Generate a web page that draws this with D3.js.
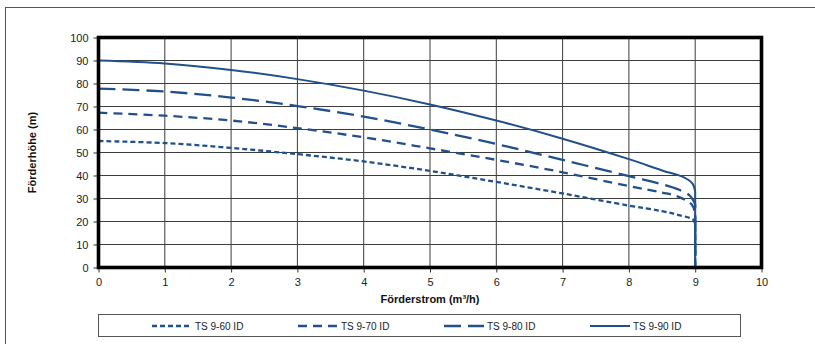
<!DOCTYPE html>
<html><head><meta charset="utf-8">
<script src="https://cdn.jsdelivr.net/npm/d3@7"></script>
<style>
body{margin:0;background:#fff}
text{font-family:"Liberation Sans",Arial,sans-serif}
</style>
</head><body>
<svg id="chart" width="815" height="344"></svg>
<script>
// ---- data ----
const seriesNames = ["TS 9-60 ID", "TS 9-70 ID", "TS 9-80 ID", "TS 9-90 ID"];
const flow60 = [0, 1, 2, 3, 4, 5, 6, 7, 8, 8.5, 8.75, 8.97, 9.0, 9.0];
const head60 = [55.0, 54.1, 52.0, 49.3, 46.1, 42.0, 37.2, 32.2, 26.9, 24.5, 22.8, 20.8, 18.5, 0];
const flow70 = [0, 1, 2, 3, 4, 5, 6, 7, 8, 8.5, 8.75, 8.95, 9.0, 9.0];
const head70 = [67.3, 66.0, 63.9, 60.6, 56.6, 51.8, 46.8, 41.4, 35.4, 32.6, 30.7, 27.3, 23.5, 0];
const flow80 = [0, 1, 2, 3, 4, 5, 6, 7, 8, 8.5, 8.75, 8.92, 9.0, 9.0];
const head80 = [77.8, 76.5, 73.9, 70.2, 65.6, 60.0, 53.7, 46.8, 39.7, 36.2, 33.9, 31.2, 27.5, 0];
const flow90 = [0, 1, 2, 3, 4, 5, 6, 7, 8, 8.5, 8.83, 8.96, 9.0, 9.0];
const head90 = [90.0, 88.7, 85.9, 81.9, 76.9, 70.9, 63.9, 56.0, 47.1, 42.2, 39.2, 36.5, 33.0, 0];
const xTicks = [0, 1, 2, 3, 4, 5, 6, 7, 8, 9, 10];
const yTicks = [0, 10, 20, 30, 40, 50, 60, 70, 80, 90, 100];
const xTitle = "Förderstrom (m³/h)";
const yTitle = "Förderhöhe (m)";

const flows = [flow60, flow70, flow80, flow90];
const heads = [head60, head70, head80, head90];
const dashes = ["5,3", "9,6", "17,7", null];
const color = "#22508a";

const svg = d3.select("#chart");

// outer frame (top + left)
svg.append("line").attr("x1", 5).attr("x2", 815).attr("y1", 7.5).attr("y2", 7.5).attr("stroke", "#555").attr("stroke-width", 1);
svg.append("line").attr("x1", 5.5).attr("x2", 5.5).attr("y1", 7).attr("y2", 344).attr("stroke", "#555").attr("stroke-width", 1);

const x = d3.scaleLinear().domain([0, 10]).range([98.5, 761.5]);
const y = d3.scaleLinear().domain([0, 100]).range([267.5, 37.5]);

// grid
const g = svg.append("g");
g.selectAll(".vg").data(xTicks.slice(1, -1)).join("line")
  .attr("x1", d => x(d)).attr("x2", d => x(d)).attr("y1", y(100)).attr("y2", y(0))
  .attr("stroke", "#3c3c3c").attr("stroke-width", 1);
g.selectAll(".hg").data(yTicks.slice(1, -1)).join("line")
  .attr("x1", x(0)).attr("x2", x(10)).attr("y1", d => y(d)).attr("y2", d => y(d))
  .attr("stroke", "#3c3c3c").attr("stroke-width", 1);

// axes
const xAxis = d3.axisBottom(x).tickValues(xTicks).tickSize(5).tickPadding(6).tickFormat(d3.format("d"));
const yAxis = d3.axisLeft(y).tickValues(yTicks).tickSize(5).tickPadding(5).tickFormat(d3.format("d"));
const gx = svg.append("g").attr("transform", `translate(0,${y(0)})`).call(xAxis);
const gy = svg.append("g").attr("transform", `translate(${x(0)},0)`).call(yAxis);
[gx, gy].forEach(a => {
  a.select(".domain").remove();
  a.selectAll(".tick line").attr("stroke", "#333");
  a.selectAll(".tick text").attr("fill", "#222").style("font-size", "11px").style("font-family", "'Liberation Sans', Arial, sans-serif");
});

// curves: smooth part through the points, then a straight vertical drop at the last point
const smooth = d3.line().x(d => x(d[0])).y(d => y(d[1])).curve(d3.curveCatmullRom.alpha(0.5));
const straight = d3.line().x(d => x(d[0])).y(d => y(d[1]));
seriesNames.forEach((name, i) => {
  const pts = flows[i].map((f, j) => [f, heads[i][j]]);
  const n = pts.length;
  const d = smooth(pts.slice(0, n - 1)) + straight(pts.slice(n - 2)).replace(/^M[^L]*/, "");
  const p = svg.append("path").attr("d", d)
    .attr("fill", "none").attr("stroke", color)
    .attr("stroke-width", dashes[i] ? 2.3 : 2);
  if (dashes[i]) p.attr("stroke-dasharray", dashes[i]);
});

// plot border
svg.append("rect").attr("x", x(0)).attr("y", y(100)).attr("width", x(10) - x(0)).attr("height", y(0) - y(100))
  .attr("fill", "none").attr("stroke", "#000").attr("stroke-width", 3.6);

// titles
svg.append("text").attr("x", (x(0) + x(10)) / 2).attr("y", 303).attr("text-anchor", "middle")
  .style("font-size", "11px").style("font-weight", "bold").attr("fill", "#111").text(xTitle);
svg.append("text").attr("transform", `translate(35.5,${(y(0) + y(100)) / 2}) rotate(-90)`).attr("text-anchor", "middle")
  .style("font-size", "11px").style("font-weight", "bold").attr("fill", "#111").text(yTitle);

// legend
svg.append("rect").attr("x", 98.5).attr("y", 314.5).attr("width", 642).attr("height", 22)
  .attr("fill", "#fff").attr("stroke", "#555").attr("stroke-width", 1);
const legX = d3.scalePoint().domain(seriesNames).range([152, 590]);
seriesNames.forEach((name, i) => {
  const lx = legX(name);
  const l = svg.append("line").attr("x1", lx).attr("x2", lx + 40).attr("y1", 326).attr("y2", 326)
    .attr("stroke", color).attr("stroke-width", dashes[i] ? 2.3 : 2);
  if (dashes[i]) l.attr("stroke-dasharray", dashes[i]);
  svg.append("text").attr("x", lx + 43).attr("y", 329.5).style("font-size", "10px").attr("fill", "#222").text(name);
});
</script>
</body></html>
